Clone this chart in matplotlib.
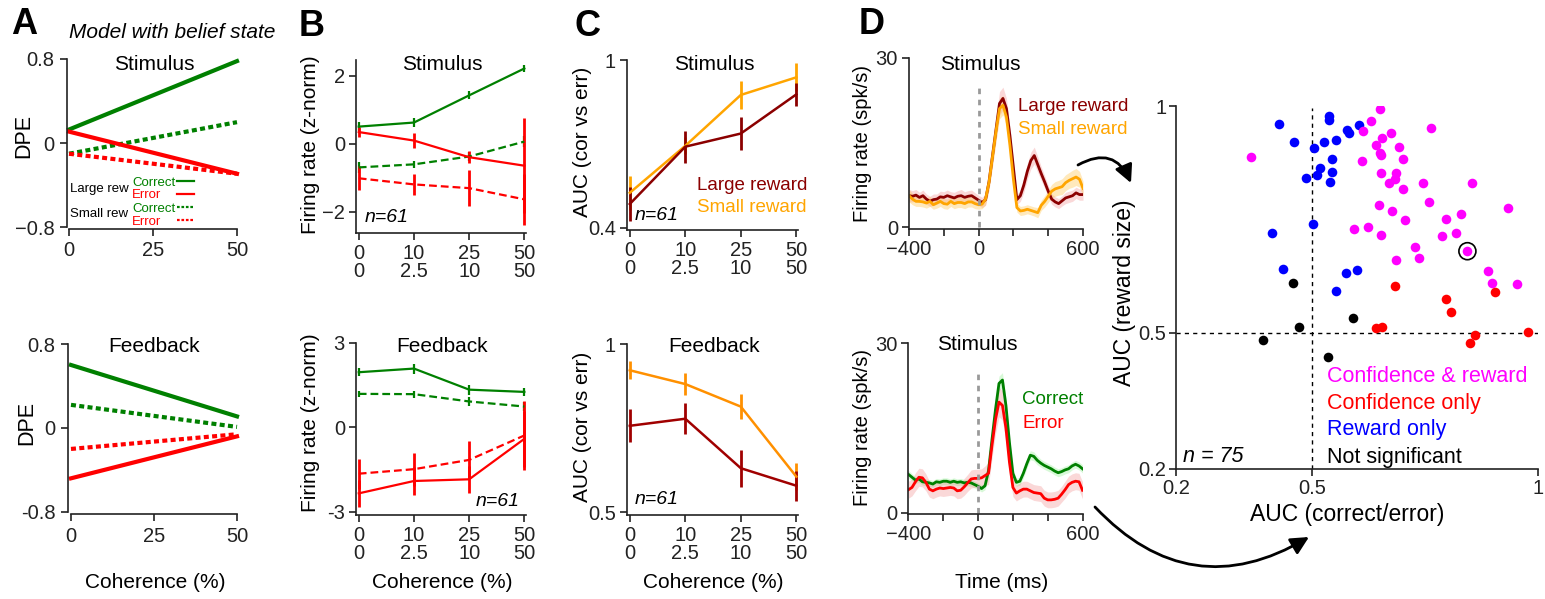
import numpy as np
import matplotlib
matplotlib.use("Agg")
import matplotlib.pyplot as plt
from matplotlib.patches import FancyArrowPatch

plt.rcParams['font.family'] = ['Liberation Sans', 'DejaVu Sans']

W, H = 1545, 599

GREEN = "#008000"
RED = "#FF0000"
DARKRED = "#8B0000"
ORANGE = "#FFA500"

# ── Panel A: model DPE ────────────────────────────────────────────────────────
coh_model = [0, 50]
A_stim_large_cor = [0.13, 0.78]
A_stim_large_err = [0.11, -0.29]
A_stim_small_cor = [-0.10, 0.20]
A_stim_small_err = [-0.10, -0.29]
A_fb_large_cor = [0.60, 0.11]
A_fb_large_err = [-0.48, -0.08]
A_fb_small_cor = [0.22, 0.01]
A_fb_small_err = [-0.20, -0.06]

# ── Panel B: firing rate vs coherence ─────────────────────────────────────────
coh_pos = [0, 1, 2, 3]
coh_labels = ["0\n0", "10\n2.5", "25\n10", "50\n50"]
B_stim_large_cor = [0.51, 0.63, 1.43, 2.22]
B_stim_large_cor_se = [0.13, 0.12, 0.12, 0.10]
B_stim_large_err = [0.35, 0.10, -0.39, -0.64]
B_stim_large_err_se = [0.15, 0.22, 0.17, 1.40]
B_stim_small_cor = [-0.69, -0.60, -0.37, 0.07]
B_stim_small_cor_se = [0.15, 0.10, 0.12, 0.15]
B_stim_small_err = [-1.01, -1.19, -1.30, -1.63]
B_stim_small_err_se = [0.35, 0.32, 0.54, 0.75]

B_fb_large_cor = [1.96, 2.09, 1.34, 1.26]
B_fb_large_cor_se = [0.15, 0.18, 0.18, 0.15]
B_fb_small_cor = [1.19, 1.18, 0.92, 0.74]
B_fb_small_cor_se = [0.10, 0.12, 0.15, 0.15]
B_fb_large_err = [-2.35, -1.91, -1.85, -0.41]
B_fb_large_err_se = [0.47, 0.50, 0.47, 1.00]
B_fb_small_err = [-1.65, -1.49, -1.16, -0.29]
B_fb_small_err_se = [0.53, 0.59, 0.66, 1.22]

# ── Panel C: AUC correct vs error ─────────────────────────────────────────────
C_stim_large = [0.485, 0.690, 0.737, 0.877]
C_stim_large_se = [0.060, 0.057, 0.060, 0.040]
C_stim_small = [0.525, 0.693, 0.875, 0.938]
C_stim_small_se = [0.060, 0.030, 0.050, 0.050]
C_fb_large = [0.757, 0.778, 0.631, 0.579]
C_fb_large_se = [0.049, 0.046, 0.055, 0.045]
C_fb_small = [0.922, 0.881, 0.814, 0.606]
C_fb_small_se = [0.027, 0.032, 0.038, 0.040]

# ── Panel D: example neuron PSTHs (20 ms bins, -400..600 ms) ──────────────────
psth_t = np.arange(-400, 601, 20)
D_large = [5.6, 5.5, 5.7, 5.3, 5.6, 5.0, 4.6, 4.9, 5.0, 5.4, 5.3, 5.6, 5.4, 5.2, 5.5, 5.6, 5.3, 5.5, 5.6, 5.2,
           4.8, 4.4, 4.9, 8.1, 12.7, 17.3, 21.9, 22.8, 21.0, 16.2, 10.6, 4.9, 5.6, 7.5, 9.9, 11.8, 12.7, 11.1,
           9.5, 8.0, 6.4, 5.0, 4.5, 4.2, 4.7, 5.2, 5.4, 5.6, 6.1, 5.8, 5.8]
D_large_se = [1.1, 1.0, 1.0, 0.9, 1.0, 0.9, 0.9, 1.0, 0.9, 1.0, 1.0, 1.0, 0.9, 1.0, 1.0, 1.1, 1.0, 1.0, 1.0, 0.9,
              0.9, 0.9, 1.0, 1.4, 1.8, 2.0, 2.1, 2.0, 1.8, 1.5, 1.1, 0.9, 1.0, 1.3, 1.4, 1.5, 1.5, 1.4,
              1.2, 1.1, 1.0, 0.9, 0.9, 0.9, 0.9, 1.0, 1.0, 1.0, 1.0, 1.0, 1.0]
D_small = [5.6, 5.0, 4.6, 4.6, 4.5, 4.3, 4.6, 4.0, 4.3, 4.6, 4.2, 4.1, 4.6, 4.2, 4.4, 4.4, 4.2, 4.5, 4.5, 4.2,
           4.0, 4.1, 5.0, 8.0, 12.5, 17.0, 21.0, 21.6, 19.5, 14.5, 8.5, 3.5, 2.9, 3.0, 3.2, 3.0, 2.8, 2.6,
           3.9, 4.6, 5.5, 6.4, 6.8, 7.0, 7.2, 7.9, 8.3, 8.6, 8.9, 8.5, 6.9]
D_small_se = [1.1, 1.0, 0.9, 0.9, 0.9, 0.9, 0.9, 0.8, 0.9, 0.9, 0.9, 0.9, 0.9, 0.9, 0.9, 0.9, 0.9, 0.9, 0.9, 0.9,
              0.8, 0.8, 1.0, 1.3, 1.6, 1.8, 1.8, 1.7, 1.5, 1.2, 0.9, 0.8, 0.8, 0.8, 0.8, 0.8, 0.8, 0.9,
              0.9, 1.0, 1.1, 1.2, 1.3, 1.3, 1.4, 1.4, 1.4, 1.5, 1.5, 1.4, 1.3]
D_correct = [6.8, 6.3, 5.8, 6.0, 5.5, 5.4, 5.3, 5.1, 5.5, 5.4, 5.6, 5.6, 5.4, 5.6, 5.4, 5.5, 5.3, 5.4, 5.3, 5.0,
             4.7, 4.3, 4.8, 7.5, 13.0, 18.3, 22.9, 23.5, 19.0, 12.5, 7.0, 5.4, 5.6, 7.0, 8.7, 10.2, 10.0, 9.3,
             8.8, 8.4, 8.1, 7.8, 7.4, 7.1, 7.3, 7.6, 7.8, 8.3, 8.6, 8.3, 7.8]
D_correct_se = [0.7, 0.6, 0.6, 0.6, 0.6, 0.6, 0.6, 0.6, 0.6, 0.6, 0.6, 0.6, 0.6, 0.6, 0.6, 0.6, 0.6, 0.6, 0.6, 0.6,
                0.6, 0.6, 0.7, 0.9, 1.1, 1.2, 1.3, 1.3, 1.2, 1.0, 0.8, 0.7, 0.7, 0.8, 0.8, 0.8, 0.8, 0.8,
                0.7, 0.7, 0.7, 0.7, 0.7, 0.7, 0.7, 0.7, 0.7, 0.7, 0.7, 0.7, 0.7]
D_error = [4.1, 4.5, 5.5, 6.3, 6.2, 5.4, 4.2, 3.9, 4.2, 4.4, 4.3, 4.4, 4.5, 4.4, 3.9, 4.0, 4.6, 5.3, 6.0, 6.1,
           6.1, 6.2, 6.6, 7.0, 12.0, 16.5, 19.6, 19.0, 15.0, 9.0, 4.5, 3.5, 3.9, 4.2, 4.2, 3.9, 3.6, 3.5,
           3.4, 2.6, 2.3, 2.3, 2.4, 2.6, 3.3, 4.1, 5.0, 5.4, 5.6, 5.5, 4.0]
D_error_se = [1.5, 1.5, 1.6, 1.6, 1.6, 1.5, 1.4, 1.4, 1.4, 1.4, 1.4, 1.4, 1.4, 1.4, 1.4, 1.4, 1.5, 1.5, 1.6, 1.6,
              1.6, 1.6, 1.7, 2.0, 2.3, 2.5, 2.6, 2.6, 2.4, 2.0, 1.6, 1.4, 1.4, 1.4, 1.4, 1.4, 1.4, 1.4,
              1.4, 1.4, 1.4, 1.4, 1.4, 1.4, 1.4, 1.5, 1.5, 1.5, 1.5, 1.5, 1.5]

# ── Scatter: AUC correct/error vs AUC reward size ─────────────────────────────
both_x = [0.651, 0.632, 0.614, 0.366, 0.676, 0.656, 0.643, 0.692, 0.651, 0.652, 0.702, 0.611, 0.763,
          0.654, 0.687, 0.684, 0.671, 0.701, 0.746, 0.855, 0.649, 0.759, 0.677, 0.706, 0.796, 0.829,
          0.934, 0.594, 0.625, 0.652, 0.787, 0.818, 0.728, 0.738, 0.686, 0.844, 0.890, 0.898, 0.954]
both_y = [0.993, 0.968, 0.946, 0.888, 0.941, 0.929, 0.914, 0.910, 0.897, 0.891, 0.884, 0.879, 0.952,
          0.852, 0.852, 0.839, 0.830, 0.817, 0.830, 0.831, 0.782, 0.789, 0.768, 0.748, 0.750, 0.761,
          0.775, 0.728, 0.733, 0.715, 0.714, 0.721, 0.690, 0.666, 0.660, 0.680, 0.637, 0.609, 0.608]
conf_x = [0.684, 0.904, 0.797, 0.807, 0.641, 0.656, 0.860, 0.850, 0.977]
conf_y = [0.603, 0.591, 0.574, 0.546, 0.510, 0.514, 0.495, 0.477, 0.503]
rew_x = [0.427, 0.538, 0.538, 0.461, 0.506, 0.528, 0.554, 0.578, 0.583, 0.605, 0.544, 0.518, 0.511,
         0.487, 0.544, 0.541, 0.503, 0.412, 0.436, 0.575, 0.599, 0.554]
rew_y = [0.961, 0.979, 0.970, 0.921, 0.907, 0.921, 0.926, 0.948, 0.940, 0.959, 0.884, 0.863, 0.848,
         0.842, 0.855, 0.833, 0.739, 0.720, 0.641, 0.631, 0.638, 0.592]
ns_x = [0.459, 0.592, 0.471, 0.392, 0.536]
ns_y = [0.609, 0.532, 0.512, 0.485, 0.447]
example_x = [0.844]
example_y = [0.680]

fig = plt.figure(figsize=(W / 100, H / 100), dpi=100)
fig.patch.set_facecolor("white")


def box(l, t, r, b):
    return fig.add_axes([l / W, 1 - b / H, (r - l) / W, (b - t) / H])


def ftext(x, y, s, **kw):
    kw.setdefault("ha", "center")
    kw.setdefault("va", "center")
    return fig.text(x / W, 1 - y / H, s, **kw)


def style(ax, pad=3):
    for s in ("top", "right"):
        ax.spines[s].set_visible(False)
    for s in ("left", "bottom"):
        ax.spines[s].set_linewidth(1.2)
        ax.spines[s].set_color("#222222")
    ax.tick_params(direction="out", length=5, width=1.2, color="#222222",
                   labelsize=14.5, pad=pad, labelcolor="#222222")
    ax.patch.set_alpha(0)


# ── A ─────────────────────────────────────────────────────────────────────────
dash_a = (0, (1.2, 0.8))
axA1 = box(67, 59, 238, 229)
axA1.plot(coh_model, A_stim_small_cor, color=GREEN, lw=3, ls=dash_a)
axA1.plot(coh_model, A_stim_small_err, color=RED, lw=3, ls=dash_a)
axA1.plot(coh_model, A_stim_large_cor, color=GREEN, lw=3)
axA1.plot(coh_model, A_stim_large_err, color=RED, lw=3)
axA1.set_xlim(-0.6, 50.3)
axA1.set_ylim(-0.815, 0.8)

axA2 = box(68, 344, 238, 514)
axA2.plot(coh_model, A_fb_small_cor, color=GREEN, lw=3, ls=dash_a)
axA2.plot(coh_model, A_fb_small_err, color=RED, lw=3, ls=dash_a)
axA2.plot(coh_model, A_fb_large_cor, color=GREEN, lw=3)
axA2.plot(coh_model, A_fb_large_err, color=RED, lw=3)
axA2.set_xlim(-0.9, 50.3)
axA2.set_ylim(-0.82, 0.8)

for ax, neg in ((axA1, "\u22120.8"), (axA2, "-0.8")):
    style(ax, pad=4)
    ax.set_xticks([0, 25, 50])
    ax.set_yticks([-0.8, 0, 0.8])
    ax.set_yticklabels([neg, "0", "0.8"])
    ax.spines["bottom"].set_bounds(0, 50)
    ax.spines["left"].set_bounds(-0.8, 0.8)
    for ln in ax.lines:
        ln.set_clip_on(False)

# legend: handle samples only, the labels are placed as text to the left
h = axA1.get_lines()
leg_kw = dict(loc="upper left", bbox_transform=fig.transFigure, frameon=False,
              fontsize=9.5, handlelength=1.3, handletextpad=0, labelspacing=0.05,
              borderpad=0, borderaxespad=0)
leg1 = axA1.legend([h[2], h[3]], ["", ""], bbox_to_anchor=(177 / W, 1 - 176 / H), **leg_kw)
axA1.add_artist(leg1)
leg2 = axA1.legend([h[0], h[1]], ["", ""], bbox_to_anchor=(177 / W, 1 - 202 / H), **leg_kw)
for lg in (leg1, leg2):
    for lh in lg.get_lines():
        lh.set_linewidth(1.6)
ftext(70, 189, "Large rew", ha="left", fontsize=9.5)
ftext(132, 183, "Correct", ha="left", fontsize=9.5, color=GREEN)
ftext(132, 195, "Error", ha="left", fontsize=9.5, color=RED)
ftext(70, 214, "Small rew", ha="left", fontsize=9.5)
ftext(132, 209, "Correct", ha="left", fontsize=9.5, color=GREEN)
ftext(132, 222, "Error", ha="left", fontsize=9.5, color=RED)

ftext(24, 25, "A", fontsize=26, fontweight="bold")
ftext(172, 33, "Model with belief state", fontsize=15, style="italic")
ftext(154, 65, "Stimulus", fontsize=15)
ftext(154, 346, "Feedback", fontsize=15)
ftext(24, 136, "DPE", fontsize=15.5, rotation=90)
ftext(27, 423, "DPE", fontsize=15.5, rotation=90)
ftext(155, 582, "Coherence (%)", fontsize=15)

# ── B ─────────────────────────────────────────────────────────────────────────
dash_b = (0, (3.5, 1.8))
axB1 = box(356, 60, 526, 233)
axB1.errorbar(coh_pos, B_stim_small_cor, yerr=B_stim_small_cor_se, color=GREEN, lw=1.6, ls=dash_b, elinewidth=1.6)
axB1.errorbar(coh_pos, B_stim_small_err, yerr=B_stim_small_err_se, color=RED, lw=1.6, ls=dash_b, elinewidth=2)
axB1.errorbar(coh_pos, B_stim_large_cor, yerr=B_stim_large_cor_se, color=GREEN, lw=1.6, elinewidth=1.6)
axB1.errorbar(coh_pos, B_stim_large_err, yerr=B_stim_large_err_se, color=RED, lw=1.6, elinewidth=2)
axB1.set_ylim(-2.62, 2.47)
axB1.set_yticks([-2, 0, 2])
axB1.set_yticklabels(["\u22122", "0", "2"])

axB2 = box(356, 343, 526, 515)
axB2.errorbar(coh_pos, B_fb_small_cor, yerr=B_fb_small_cor_se, color=GREEN, lw=1.6, ls=dash_b, elinewidth=1.6)
axB2.errorbar(coh_pos, B_fb_small_err, yerr=B_fb_small_err_se, color=RED, lw=1.6, ls=dash_b, elinewidth=2)
axB2.errorbar(coh_pos, B_fb_large_cor, yerr=B_fb_large_cor_se, color=GREEN, lw=1.6, elinewidth=1.6)
axB2.errorbar(coh_pos, B_fb_large_err, yerr=B_fb_large_err_se, color=RED, lw=1.6, elinewidth=2)
axB2.set_ylim(-3.12, 3.0)
axB2.set_yticks([-3, 0, 3])
axB2.set_yticklabels(["-3", "0", "3"])

# ── C ─────────────────────────────────────────────────────────────────────────
axC1 = box(627, 60, 798, 230)
axC1.errorbar(coh_pos, C_stim_small, yerr=C_stim_small_se, color=ORANGE, lw=1.8, elinewidth=2)
axC1.errorbar(coh_pos, C_stim_large, yerr=C_stim_large_se, color=DARKRED, lw=1.8, elinewidth=2)
axC1.set_ylim(0.392, 1.0)
axC1.set_yticks([0.4, 1.0])
axC1.set_yticklabels(["0.4", "1"])

axC2 = box(627, 344, 798, 515)
axC2.errorbar(coh_pos, C_fb_small, yerr=C_fb_small_se, color="#FF9000", lw=1.8, elinewidth=2)
axC2.errorbar(coh_pos, C_fb_large, yerr=C_fb_large_se, color="#A00000", lw=1.8, elinewidth=2)
axC2.set_ylim(0.492, 1.0)
axC2.set_yticks([0.5, 1.0])
axC2.set_yticklabels(["0.5", "1"])

for ax in (axB1, axB2, axC1, axC2):
    style(ax)
    ax.set_xlim(-0.05, 3.03)
    ax.set_xticks(coh_pos)
    ax.set_xticklabels(coh_labels)
    for lab in ax.get_xticklabels():
        lab.set_linespacing(0.95)
    for art in ax.get_children():
        if hasattr(art, "set_clip_on"):
            art.set_clip_on(False)

ftext(312, 27, "B", fontsize=26, fontweight="bold")
ftext(442, 65, "Stimulus", fontsize=15)
ftext(442, 346, "Feedback", fontsize=15)
ftext(310, 145, "Firing rate (z-norm)", fontsize=15, rotation=90)
ftext(310, 423, "Firing rate (z-norm)", fontsize=15, rotation=90)
ftext(442, 583, "Coherence (%)", fontsize=15)
ftext(365, 217, "n=61", ha="left", fontsize=14, style="italic")
ftext(520, 501, "n=61", ha="right", fontsize=14, style="italic")

ftext(587, 27, "C", fontsize=26, fontweight="bold")
ftext(714, 65, "Stimulus", fontsize=15)
ftext(714, 346, "Feedback", fontsize=15)
ftext(583, 142, "AUC (cor vs err)", fontsize=15, rotation=90)
ftext(583, 427, "AUC (cor vs err)", fontsize=15, rotation=90)
ftext(713, 583, "Coherence (%)", fontsize=15)
ftext(697, 185, "Large reward", ha="left", fontsize=13.5, color=DARKRED)
ftext(697, 208, "Small reward", ha="left", fontsize=13.5, color=ORANGE)
ftext(635, 215, "n=61", ha="left", fontsize=14, style="italic")
ftext(635, 500, "n=61", ha="left", fontsize=14, style="italic")

# ── D ─────────────────────────────────────────────────────────────────────────
axD1 = box(909, 57.7, 1083, 228.5)
axD1.fill_between(psth_t, np.array(D_large) - D_large_se, np.array(D_large) + D_large_se,
                  color="#F08080", alpha=0.3, lw=0)
axD1.fill_between(psth_t, np.array(D_small) - D_small_se, np.array(D_small) + D_small_se,
                  color="#FFC040", alpha=0.35, lw=0)
axD1.plot(psth_t, D_large, color=DARKRED, lw=2)
axD1.plot(psth_t, D_small, color=ORANGE, lw=2)

axD2 = box(908.5, 343.3, 1082.5, 514)
axD2.fill_between(psth_t, np.array(D_correct) - D_correct_se, np.array(D_correct) + D_correct_se,
                  color="#90EE90", alpha=0.35, lw=0)
axD2.fill_between(psth_t, np.array(D_error) - D_error_se, np.array(D_error) + D_error_se,
                  color="#F08080", alpha=0.3, lw=0)
axD2.plot(psth_t, D_correct, color=GREEN, lw=2)
axD2.plot(psth_t, D_error, color=RED, lw=2)

for ax in (axD1, axD2):
    style(ax)
    ax.vlines(0, 0, 24.6, color="#999999", lw=2, linestyles=(0, (2, 2)))
    ax.set_xlim(-400, 600)
    ax.set_ylim(-0.2, 30)
    ax.set_xticks([-400, -200, 0, 200, 400, 600])
    ax.set_xticklabels(["\u2212400", "", "0", "", "", "600"])
    ax.set_yticks([0, 30])

ftext(872, 25, "D", fontsize=26, fontweight="bold")
ftext(980, 65, "Stimulus", fontsize=15)
ftext(977, 345, "Stimulus", fontsize=15)
ftext(863, 144, "Firing rate (spk/s)", fontsize=14.5, rotation=90)
ftext(863, 428, "Firing rate (spk/s)", fontsize=14.5, rotation=90)
ftext(1002, 582, "Time (ms)", fontsize=15)
ftext(1018, 107, "Large reward", ha="left", fontsize=13.5, color=DARKRED)
ftext(1018, 129, "Small reward", ha="left", fontsize=13.5, color=ORANGE)
ftext(1022, 400, "Correct", ha="left", fontsize=13.5, color=GREEN)
ftext(1022, 423, "Error", ha="left", fontsize=13.5, color=RED)

# ── Scatter ───────────────────────────────────────────────────────────────────
axS = box(1176, 106, 1538, 469)
style(axS)
axS.axvline(0.5, ymax=0.995, color="black", lw=1, ls=(0, (3, 3)))
axS.axhline(0.5, color="black", lw=1, ls=(0, (3, 3)))
axS.scatter(rew_x, rew_y, s=48, color="#0000FF", lw=0, zorder=3)
axS.scatter(both_x, both_y, s=48, color="#FF00FF", lw=0, zorder=3)
axS.scatter(conf_x, conf_y, s=48, color="#FF0000", lw=0, zorder=3)
axS.scatter(ns_x, ns_y, s=48, color="black", lw=0, zorder=3)
axS.scatter(example_x, example_y, s=150, facecolors="none", edgecolors="black", lw=1.2, zorder=4)
axS.set_xlim(0.2, 1.0)
axS.set_ylim(0.2, 1.0)
axS.set_xticks([0.2, 0.5, 1.0])
axS.set_xticklabels(["0.2", "0.5", "1"])
axS.set_yticks([0.2, 0.5, 1.0])
axS.set_yticklabels(["0.2", "0.5", "1"])
axS.tick_params(pad=2)

ftext(1125, 293, "AUC (reward size)", fontsize=16.5, rotation=90)
ftext(1347, 515, "AUC (correct/error)", fontsize=16.5)
ftext(1327, 377, "Confidence & reward", ha="left", fontsize=15.5, color="#FF00FF")
ftext(1327, 403, "Confidence only", ha="left", fontsize=15.5, color="#FF0000")
ftext(1327, 430, "Reward only", ha="left", fontsize=15.5, color="#0000FF")
ftext(1327, 457, "Not significant", ha="left", fontsize=15.5, color="black")
ftext(1183, 457, "n = 75", ha="left", fontsize=15.5, style="italic")

# ── Arrows linking example neuron to scatter ─────────────────────────────────
arrow_kw = dict(transform=fig.transFigure, arrowstyle="-|>,head_length=0.9,head_width=0.45",
                mutation_scale=12, lw=2, color="black", shrinkA=0, shrinkB=0)
fig.add_artist(FancyArrowPatch((1078 / W, 1 - 165 / H), (1131 / W, 1 - 183 / H),
                               connectionstyle="arc3,rad=-0.55", **arrow_kw))
fig.add_artist(FancyArrowPatch((1095 / W, 1 - 507 / H), (1309 / W, 1 - 537 / H),
                               connectionstyle="arc3,rad=0.4", **arrow_kw))

fig.savefig("out.png", dpi=100, facecolor="white")
